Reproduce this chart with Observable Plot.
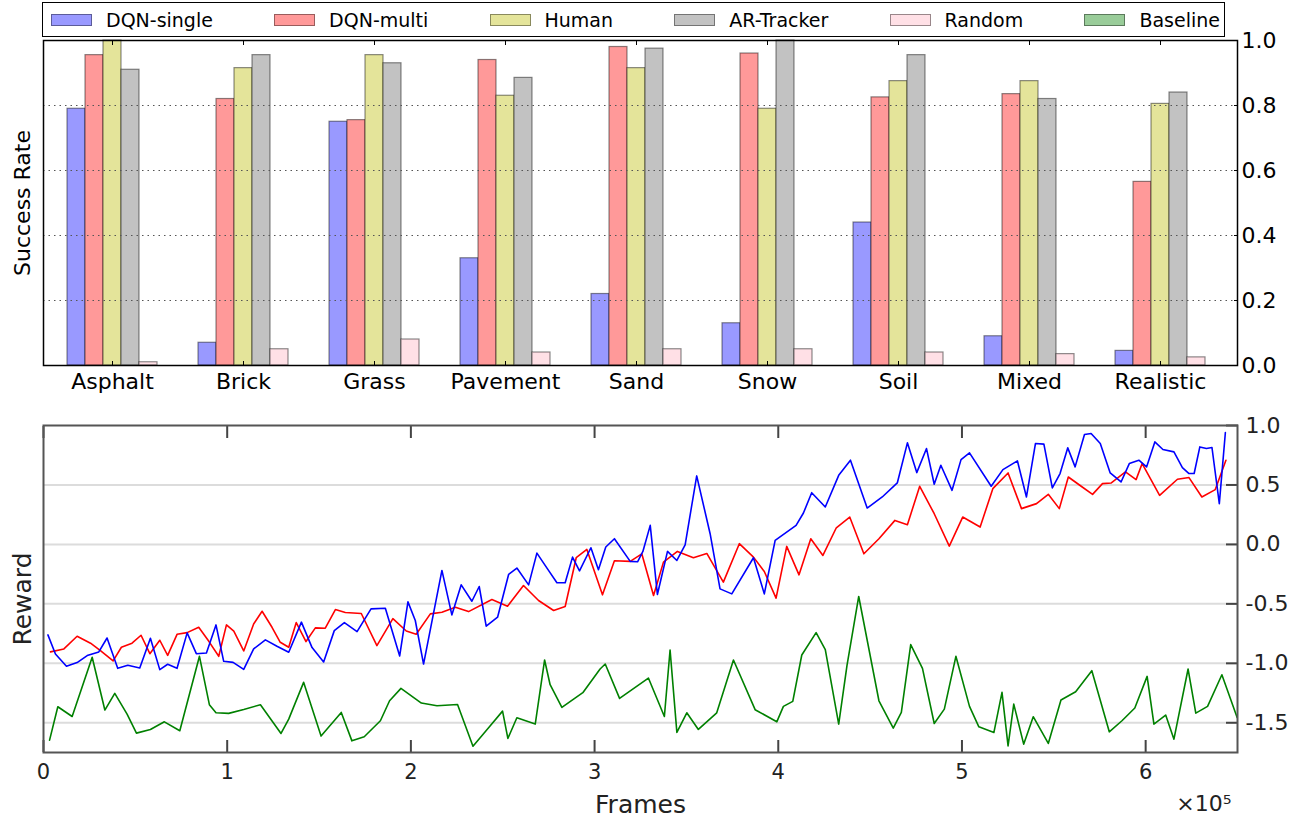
<!DOCTYPE html>
<html><head><meta charset="utf-8">
<script src="https://cdn.jsdelivr.net/npm/d3@7"></script>
<script src="https://cdn.jsdelivr.net/npm/@observablehq/plot@0.6"></script>
<style>
html,body{margin:0;padding:0;background:#fff;overflow:hidden}
#wrap{position:relative;width:1303px;height:825px;font-family:"DejaVu Sans",sans-serif;background:#fff}
#top,#bottom{position:absolute;left:0}
#top{top:0}
#bottom{top:400px}
#legend{position:absolute;left:42px;top:2px;width:1183px;height:35px;box-sizing:border-box;border:1.5px solid #000;display:flex;align-items:center;justify-content:space-between;padding:0 4px 0 8px;background:#fff;z-index:2}
.item{display:flex;align-items:center;font-size:19px;color:#000;white-space:nowrap}
.sw{width:41px;height:12px;box-sizing:border-box;border:1px solid rgba(0,0,0,0.4);margin-right:14px}
</style></head>
<body>
<div id="wrap"><div id="top"></div><div id="bottom"></div><div id="legend"></div></div>
<script>
// ---------- Top panel data: success rate per texture ----------
const categories = ["Asphalt","Brick","Grass","Pavement","Sand","Snow","Soil","Mixed","Realistic"];
const dqnSingle  = [0.79, 0.07, 0.75, 0.33, 0.22, 0.13, 0.44, 0.09, 0.045];
const dqnMulti   = [0.955, 0.82, 0.755, 0.94, 0.98, 0.96, 0.825, 0.835, 0.565];
const human      = [1.0, 0.915, 0.955, 0.83, 0.915, 0.79, 0.875, 0.875, 0.805];
const arTracker  = [0.91, 0.955, 0.93, 0.885, 0.975, 1.0, 0.955, 0.82, 0.84];
const randomPol  = [0.01, 0.05, 0.08, 0.04, 0.05, 0.05, 0.04, 0.035, 0.025];
const legendNames = ["DQN-single","DQN-multi","Human","AR-Tracker","Random","Baseline"];
const successTicks = [0, 0.2, 0.4, 0.6, 0.8, 1.0];

// ---------- Bottom panel data: reward vs frames (x in units of 1e5 frames) ----------
const singleFrames = [0.024,0.065,0.125,0.183,0.238,0.301,0.346,0.404,0.459,0.524,0.582,0.633,0.676,0.727,0.782,0.832,0.887,0.939,0.981,1.032,1.090,1.144,1.208,1.271,1.335,1.404,1.462,1.525,1.583,1.638,1.707,1.783,1.861,1.939,1.984,2.024,2.069,2.169,2.223,2.274,2.332,2.372,2.410,2.472,2.532,2.577,2.641,2.686,2.740,2.795,2.840,2.880,2.918,2.980,3.021,3.061,3.108,3.194,3.234,3.263,3.303,3.342,3.397,3.448,3.493,3.556,3.629,3.683,3.747,3.865,3.924,3.983,4.097,4.137,4.182,4.256,4.329,4.393,4.484,4.566,4.648,4.703,4.754,4.807,4.849,4.885,4.946,4.995,5.041,5.159,5.223,5.302,5.351,5.400,5.446,5.492,5.534,5.576,5.616,5.667,5.703,5.753,5.807,5.866,5.911,5.963,6.005,6.050,6.094,6.154,6.200,6.236,6.264,6.295,6.331,6.361,6.401,6.434];
const singleReward = [-0.761,-0.921,-1.025,-0.994,-0.935,-0.904,-0.787,-1.042,-1.017,-1.039,-0.789,-1.053,-1.008,-1.042,-0.744,-0.919,-0.913,-0.677,-0.983,-0.992,-1.051,-0.879,-0.803,-0.857,-0.907,-0.654,-0.868,-0.989,-0.725,-0.657,-0.733,-0.542,-0.537,-0.938,-0.483,-0.640,-1.006,-0.219,-0.593,-0.340,-0.478,-0.354,-0.688,-0.612,-0.253,-0.199,-0.340,-0.073,-0.197,-0.323,-0.323,-0.107,-0.222,-0.028,-0.213,-0.022,0.048,-0.143,-0.146,-0.059,0.160,-0.421,-0.059,-0.135,-0.003,0.576,0.090,-0.374,-0.416,-0.112,-0.416,0.034,0.160,0.264,0.435,0.315,0.581,0.708,0.306,0.399,0.517,0.854,0.604,0.806,0.506,0.666,0.455,0.713,0.770,0.489,0.629,0.702,0.399,0.848,0.843,0.475,0.596,0.812,0.652,0.924,0.933,0.848,0.601,0.525,0.680,0.708,0.652,0.862,0.798,0.778,0.646,0.596,0.596,0.820,0.806,0.815,0.343,0.941];

const multiFrames = [0.038,0.111,0.183,0.256,0.310,0.379,0.424,0.482,0.531,0.579,0.633,0.676,0.727,0.782,0.845,0.900,0.954,0.996,1.036,1.090,1.144,1.190,1.244,1.289,1.335,1.376,1.429,1.480,1.534,1.589,1.643,1.730,1.815,1.902,1.975,2.029,2.106,2.169,2.242,2.314,2.441,2.526,2.613,2.695,2.777,2.840,2.900,2.958,3.043,3.108,3.194,3.257,3.321,3.375,3.451,3.538,3.611,3.701,3.788,3.865,3.924,3.988,4.046,4.113,4.177,4.243,4.316,4.389,4.466,4.548,4.635,4.703,4.770,4.849,4.931,5.004,5.099,5.168,5.251,5.324,5.406,5.470,5.530,5.579,5.649,5.711,5.765,5.813,5.890,5.948,5.981,6.076,6.173,6.236,6.306,6.379,6.437];
const multiReward = [-0.904,-0.879,-0.772,-0.831,-0.893,-0.980,-0.865,-0.831,-0.764,-0.919,-0.806,-0.933,-0.756,-0.742,-0.697,-0.815,-0.941,-0.677,-0.730,-0.896,-0.669,-0.562,-0.697,-0.823,-0.865,-0.657,-0.817,-0.702,-0.705,-0.548,-0.573,-0.581,-0.851,-0.624,-0.728,-0.756,-0.584,-0.570,-0.528,-0.565,-0.463,-0.520,-0.346,-0.472,-0.556,-0.522,-0.112,-0.042,-0.424,-0.138,-0.143,-0.079,-0.430,-0.149,-0.059,-0.112,-0.076,-0.317,0.006,-0.107,-0.228,-0.452,-0.017,-0.256,0.048,-0.093,0.140,0.230,-0.079,0.048,0.202,0.166,0.489,0.258,-0.014,0.230,0.146,0.469,0.601,0.301,0.343,0.421,0.301,0.567,0.489,0.421,0.511,0.517,0.610,0.545,0.680,0.413,0.548,0.562,0.399,0.461,0.708];

const baseFrames = [0.033,0.078,0.156,0.265,0.334,0.388,0.455,0.506,0.582,0.658,0.742,0.849,0.903,0.939,1.008,1.090,1.181,1.293,1.335,1.416,1.511,1.621,1.679,1.746,1.834,1.884,1.946,2.057,2.142,2.254,2.338,2.423,2.499,2.528,2.577,2.677,2.728,2.758,2.822,2.936,3.030,3.058,3.136,3.293,3.380,3.411,3.448,3.502,3.565,3.665,3.756,3.874,3.992,4.028,4.079,4.128,4.206,4.256,4.329,4.374,4.438,4.548,4.626,4.670,4.721,4.785,4.849,4.904,4.967,5.041,5.092,5.174,5.218,5.251,5.282,5.336,5.388,5.470,5.539,5.619,5.707,5.802,5.871,5.941,6.008,6.045,6.109,6.154,6.231,6.273,6.337,6.415,6.498];
const baseReward = [-1.646,-1.365,-1.447,-0.949,-1.393,-1.253,-1.427,-1.587,-1.556,-1.492,-1.567,-0.941,-1.348,-1.416,-1.421,-1.388,-1.348,-1.590,-1.469,-1.160,-1.612,-1.413,-1.652,-1.618,-1.483,-1.315,-1.211,-1.334,-1.357,-1.346,-1.697,-1.542,-1.402,-1.632,-1.458,-1.511,-0.972,-1.180,-1.371,-1.247,-1.048,-1.006,-1.295,-1.124,-1.447,-0.888,-1.581,-1.416,-1.556,-1.416,-0.972,-1.390,-1.492,-1.362,-1.320,-0.930,-0.742,-0.885,-1.511,-1.020,-0.438,-1.315,-1.545,-1.413,-0.843,-1.042,-1.506,-1.385,-0.941,-1.362,-1.534,-1.581,-1.244,-1.694,-1.343,-1.680,-1.449,-1.674,-1.309,-1.239,-1.062,-1.576,-1.483,-1.376,-1.110,-1.511,-1.435,-1.638,-1.048,-1.419,-1.362,-1.096,-1.455];

const frameTicks = [0,1,2,3,4,5,6];
const rewardTicks = [-1.5,-1.0,-0.5,0.0,0.5,1.0];

// ---------- styles ----------
const barFill = ["#9999ff","#ff9999","#e4e49a","#c2c2c2","#ffe0e6","#99cc99"];
const lineColor = {single:"#0000ff", multi:"#ff0000", base:"#008000"};

// ---------- legend ----------
const legend = document.getElementById("legend");
legendNames.forEach((name, i) => {
  const it = document.createElement("div"); it.className = "item";
  const sw = document.createElement("div"); sw.className = "sw"; sw.style.background = barFill[i];
  const tx = document.createElement("span"); tx.textContent = name;
  it.appendChild(sw); it.appendChild(tx); legend.appendChild(it);
});

// ---------- top chart ----------
const barSeries = [dqnSingle, dqnMulti, human, arTracker, randomPol];
const barRows = [];
barSeries.forEach((vals, si) => categories.forEach((c, ci) => barRows.push({cat: c, s: si, value: vals[ci]})));
const BW = 18;

const topChart = Plot.plot({
  width: 1303, height: 400,
  marginTop: 40, marginBottom: 35, marginLeft: 43, marginRight: 66,
  style: {fontFamily: "DejaVu Sans", fontSize: "22px", color: "#000", background: "transparent", overflow: "visible"},
  x: {type: "band", domain: categories, paddingInner: 0.863, paddingOuter: 0.475, align: 0.472},
  y: {domain: [0, 1]},
  marks: [
    ...barSeries.map((_, si) => Plot.barY(barRows.filter(d => d.s === si), {
      x: "cat", y: "value", dx: (si - 2) * BW, fill: barFill[si],
      stroke: "#000", strokeOpacity: 0.45, strokeWidth: 1.2
    })),
    Plot.ruleY([0.2, 0.4, 0.6, 0.8], {stroke: "#555", strokeDasharray: "1.5,4", strokeWidth: 1}),
    Plot.axisX({anchor: "bottom", tickSize: -4, tickPadding: 12, label: null, fontSize: 22}),
    Plot.axisX({anchor: "top", tickSize: -4, tickFormat: () => "", label: null}),
    Plot.axisY({anchor: "right", ticks: successTicks, tickSize: -4, tickPadding: 8, tickFormat: d => d.toFixed(1), label: null, fontSize: 22}),
    Plot.frame({stroke: "#000", strokeWidth: 1.5}),
    Plot.text(["Success Rate"], {frameAnchor: "left", textAnchor: "middle", dx: -21, rotate: -90, fontSize: 22})
  ]
});
document.getElementById("top").appendChild(topChart);

// ---------- bottom chart ----------
const rows = (xs, ys) => xs.map((x, i) => ({x, y: ys[i]}));
const bottomChart = Plot.plot({
  width: 1303, height: 425,
  marginTop: 25, marginBottom: 73, marginLeft: 43, marginRight: 66,
  style: {fontFamily: "DejaVu Sans", fontSize: "21px", color: "#222", background: "transparent", overflow: "visible"},
  x: {domain: [0, 6.5]},
  y: {domain: [-1.75, 1.0]},
  marks: [
    Plot.ruleY([-1.5, -1.0, -0.5, 0, 0.5], {stroke: "#dcdcdc", strokeWidth: 2}),
    Plot.line(rows(multiFrames, multiReward), {x: "x", y: "y", stroke: lineColor.multi, strokeWidth: 1.6}),
    Plot.line(rows(singleFrames, singleReward), {x: "x", y: "y", stroke: lineColor.single, strokeWidth: 1.6}),
    Plot.line(rows(baseFrames, baseReward), {x: "x", y: "y", stroke: lineColor.base, strokeWidth: 1.6}),
    Plot.axisX({anchor: "bottom", ticks: frameTicks, tickSize: -12, tickPadding: 24, tickFormat: d => String(d), label: null, stroke: "#444", strokeWidth: 2, fontSize: 21}),
    Plot.axisX({anchor: "top", ticks: frameTicks, tickSize: -12, tickFormat: () => "", label: null, stroke: "#444", strokeWidth: 2}),
    Plot.axisY({anchor: "right", ticks: rewardTicks, tickSize: -12, tickPadding: 20, tickFormat: d => d.toFixed(1), label: null, stroke: "#444", strokeWidth: 2, fontSize: 22}),
    Plot.frame({stroke: "#555", strokeWidth: 2}),
    Plot.text(["Reward"], {frameAnchor: "left", textAnchor: "middle", dx: -21, dy: 10, rotate: -90, fontSize: 25, fill: "#222"}),
    Plot.text(["Frames"], {frameAnchor: "bottom", textAnchor: "middle", dy: 60, fontSize: 25, fill: "#222"}),
    Plot.text(["×10⁵"], {frameAnchor: "bottom-right", dx: -6, dy: 58, textAnchor: "end", fontSize: 22, fill: "#222"})
  ]
});
document.getElementById("bottom").appendChild(bottomChart);
</script>
</body></html>
